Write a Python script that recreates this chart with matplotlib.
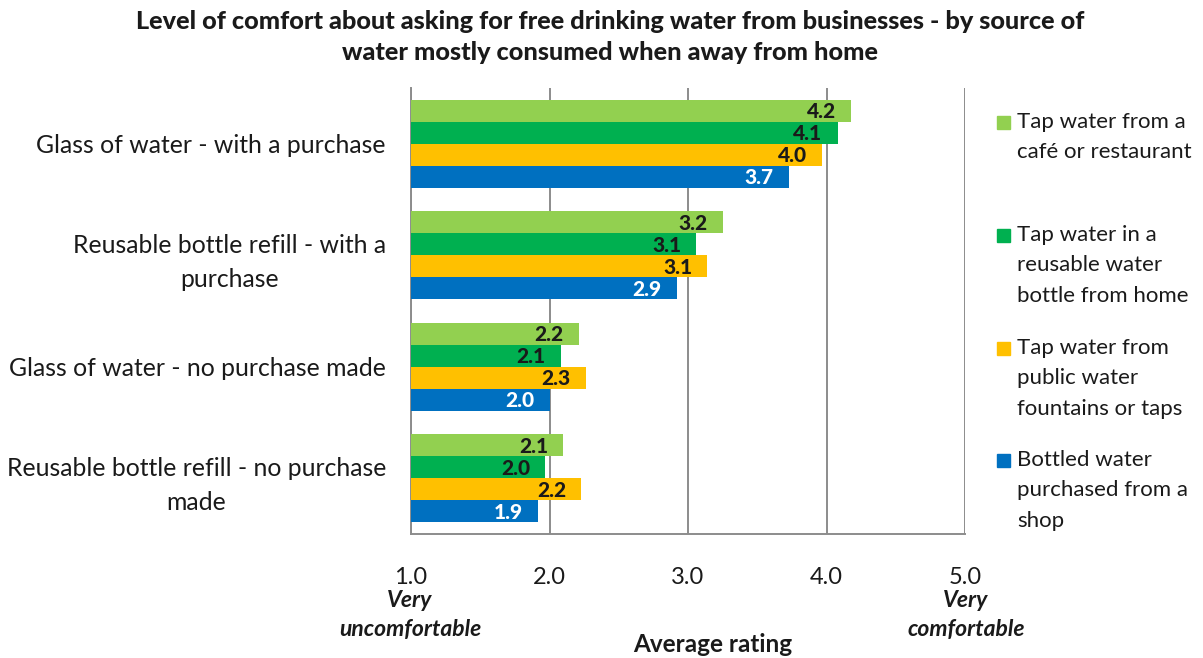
import matplotlib.pyplot as plt
import matplotlib.patches as mpatches
import numpy as np

plt.rcParams['font.family'] = ['Lato', 'DejaVu Sans']

categories = [
    "Glass of water - with a purchase",
    "Reusable bottle refill - with a\npurchase",
    "Glass of water - no purchase made",
    "Reusable bottle refill - no purchase\nmade",
]
series_names = [
    "Tap water from a\ncafé or restaurant",
    "Tap water in a\nreusable water\nbottle from home",
    "Tap water from\npublic water\nfountains or taps",
    "Bottled water\npurchased from a\nshop",
]
series_values = [
    [4.18, 3.25, 2.21, 2.10],
    [4.08, 3.06, 2.08, 1.97],
    [3.97, 3.14, 2.26, 2.23],
    [3.73, 2.92, 2.00, 1.92],
]
colors = ["#92D050", "#00B050", "#FFC000", "#0070C0"]
label_colors = ["#1a1a1a", "#1a1a1a", "#1a1a1a", "white"]
x_ticks = [1.0, 2.0, 3.0, 4.0, 5.0]

W, H = 1203, 658
fig = plt.figure(figsize=(W / 100, H / 100), dpi=100)
ax = fig.add_axes([411 / W, 1 - 534 / H, (965 - 411) / W, (534 - 88) / H])

n_cat = len(categories)
bar_h = 0.197
y_centers = np.arange(n_cat)
for i, (vals, c, lc) in enumerate(zip(series_values, colors, label_colors)):
    offs = (i - 1.5) * bar_h
    ys = y_centers + offs
    widths = [v - 1.0 for v in vals]
    ax.barh(ys, widths, left=1.0, height=bar_h, color=c, zorder=3)
    for y, v in zip(ys, vals):
        ax.text(v - 0.11, y + 0.01, f"{v:.1f}", ha='right', va='center',
                fontsize=15, fontweight='black', color=lc, zorder=4)

ax.set_xlim(1.0, 5.0)
ax.set_ylim(n_cat - 0.5, -0.5)
ax.set_xticks(x_ticks)
ax.set_xticklabels([f"{t:.1f}" for t in x_ticks], fontsize=17, color="#1a1a1a")
ax.tick_params(axis='x', length=0, pad=24)
ax.set_yticks(y_centers)
ax.set_yticklabels(categories, fontsize=17.8, color="#1a1a1a", ha='right',
                   linespacing=1.55)
ax.tick_params(axis='y', length=0, pad=18)
for lbl in ax.get_yticklabels():
    lbl.set_multialignment('center')

ax.grid(axis='x', color='#8c8c8c', linewidth=1.4, zorder=0)
for s in ['top', 'right']:
    ax.spines[s].set_visible(False)
ax.spines['left'].set_color('#8c8c8c')
ax.spines['bottom'].set_color('#8c8c8c')
ax.spines['left'].set_linewidth(1.4)
ax.spines['bottom'].set_linewidth(1.4)

# Axis end descriptions and axis title
end_kw = dict(ha='center', va='center', fontsize=16.5, fontweight='bold',
              fontstyle='italic', color='#1a1a1a', linespacing=1.42)
fig.text(410 / W, 1 - 615 / H, "Very\nuncomfortable", **end_kw)
fig.text(966 / W, 1 - 615 / H, "Very\ncomfortable", **end_kw)
fig.text(713 / W, 1 - 645 / H, "Average rating", ha='center', va='center',
         fontsize=17.5, fontweight='bold', color='#1a1a1a')

fig.text(610 / W, 1 - 37 / H,
         "Level of comfort about asking for free drinking water from businesses - by source of\n"
         "water mostly consumed when away from home",
         ha='center', va='center', fontsize=18.2, fontweight='black', color='#1a1a1a',
         linespacing=1.45)

# Legend
entry_centers = [122, 235, 348, 460]
for name, c, yc in zip(series_names, colors, entry_centers):
    fig.patches.append(mpatches.Rectangle((997 / W, 1 - (yc + 6.5) / H), 13 / W, 13 / H,
                                          transform=fig.transFigure, color=c))
    fig.text(1017 / W, 1 - (yc - 10) / H, name, ha='left', va='top', fontsize=16,
             color='#1a1a1a', linespacing=1.65)

fig.savefig("out.png", dpi=100)
